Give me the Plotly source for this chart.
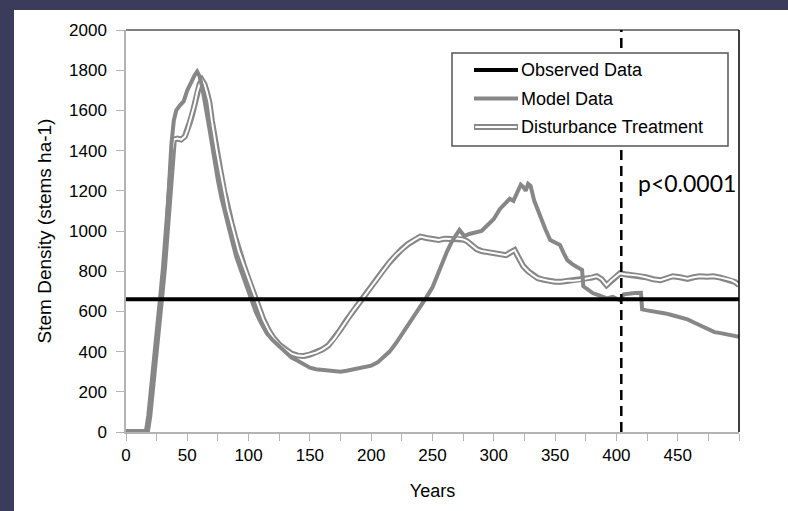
import plotly.graph_objects as go

# ---- data -------------------------------------------------------------
observed_years = [0, 500]
observed_density = [660, 660]

model_years = [0, 5, 10, 15, 17, 19, 21, 23, 25, 27, 29, 31, 33, 35, 37, 39, 41, 44, 47, 50,
               53, 56, 58, 60, 62, 64, 66, 68, 70, 72, 75, 78, 81, 84, 87, 90, 94, 98, 102, 106,
               110, 115, 120, 125, 130, 135, 140, 145, 150, 155, 160, 165, 170, 175, 180, 185,
               190, 195, 200, 205, 210, 215, 220, 225, 230, 235, 240, 245, 250, 255, 258, 262,
               266, 270, 272, 274, 276, 280, 285, 290, 295, 300, 305, 310, 313, 316, 319, 322,
               324, 326, 328, 330, 333, 336, 339, 342, 346, 350, 354, 357, 360, 364, 368, 372,
               373, 377, 381, 386, 392, 397, 401, 403, 406, 410, 415, 420, 421, 425, 430, 436,
               440, 445, 452, 458, 465, 470, 475, 480, 485, 490, 495, 500]
model_density = [0, 0, 0, 0, 0, 90, 200, 330, 460, 580, 700, 830, 1000, 1220, 1430, 1550, 1600,
                 1625, 1645, 1700, 1740, 1775, 1793, 1770, 1720, 1660, 1580, 1510, 1430, 1360,
                 1250, 1160, 1080, 1010, 940, 870, 800, 725, 660, 595, 545, 490, 455, 425, 395,
                 370, 355, 335, 320, 312, 308, 305, 303, 300, 305, 312, 320, 322, 330, 345, 370,
                 400, 440, 485, 530, 580, 625, 670, 720, 800, 850, 900, 950, 990, 1005, 990, 975,
                 985, 995, 1000, 1030, 1060, 1110, 1140, 1160, 1150, 1190, 1230, 1220, 1200, 1235,
                 1225, 1150, 1100, 1060, 1010, 955, 945, 930, 890, 855, 835, 820, 806, 725, 705,
                 690, 680, 665, 672, 660, 655, 685, 690, 692, 693, 610, 605, 600, 598, 590, 582,
                 572, 560, 540, 525, 510, 497, 492, 487, 478, 474]

treatment_years = [0, 17, 19, 21, 23, 25, 27, 29, 31, 33, 35, 37, 39, 42, 45, 48, 50, 52, 54, 56,
                   58, 60, 62, 64, 66, 68, 70, 72, 74, 77, 80, 83, 86, 89, 92, 96, 100, 104, 108,
                   112, 116, 120, 125, 130, 135, 140, 145, 150, 155, 160, 165, 170, 175, 180, 185,
                   190, 195, 200, 205, 210, 215, 220, 225, 230, 235, 240, 245, 250, 255, 260, 265,
                   270, 275, 278, 282, 286, 290, 295, 300, 305, 310, 314, 317, 320, 324, 328, 332,
                   336, 340, 345, 350, 355, 360, 365, 370, 375, 380, 384, 388, 392, 396, 400, 403,
                   407, 412, 418, 424, 430, 436, 441, 446, 452, 458, 463, 468, 474, 479, 485, 490,
                   494, 497, 500]
treatment_density = [0, 0, 80, 190, 320, 450, 570, 690, 820, 990, 1200, 1380, 1455, 1460, 1455,
                     1470, 1500, 1540, 1580, 1630, 1690, 1730, 1750, 1730, 1690, 1640, 1550, 1470,
                     1400, 1300, 1200, 1110, 1040, 970, 900, 830, 760, 690, 620, 560, 510, 470,
                     435, 410, 390, 380, 378, 385, 395, 410, 430, 465, 510, 557, 600, 640, 682,
                     725, 765, 806, 845, 880, 910, 935, 955, 972, 965, 960, 955, 962, 960, 963,
                     958, 950, 930, 910, 900, 895, 890, 885, 880, 895, 905, 870, 825, 800, 780,
                     765, 758, 752, 748, 748, 752, 752, 756, 762, 768, 775, 760, 730, 755, 775,
                     790, 785, 782, 778, 770, 760, 755, 765, 775, 770, 762, 770, 775, 772, 775,
                     768, 760, 755, 745, 730]

cutoff_year = 404
p_label = "p<0.0001"
legend_labels = ["Observed Data", "Model Data", "Disturbance Treatment"]
x_tick_values = list(range(0, 500, 50))
y_tick_values = list(range(0, 2001, 200))

# ---- styling ----------------------------------------------------------
FONT = "Liberation Sans, Arial, sans-serif"
GRAY = "#878787"
AXIS_GRAY = "#b3b3b3"

fig = go.Figure()

# disturbance treatment: hollow double line (wide gray under thin white)
fig.add_trace(go.Scatter(x=treatment_years, y=treatment_density, mode="lines",
                         line=dict(color=GRAY, width=6), showlegend=False,
                         name=legend_labels[2]))
fig.add_trace(go.Scatter(x=treatment_years, y=treatment_density, mode="lines",
                         line=dict(color="white", width=2), showlegend=False,
                         hoverinfo="skip"))
fig.add_trace(go.Scatter(x=model_years, y=model_density, mode="lines",
                         line=dict(color=GRAY, width=4), showlegend=False,
                         name=legend_labels[1]))
fig.add_trace(go.Scatter(x=observed_years, y=observed_density, mode="lines",
                         line=dict(color="black", width=4), showlegend=False,
                         name=legend_labels[0]))

# plot area geometry in pixels, used to place paper-referenced decorations
L, R, T, B = 126, 49, 30, 79
W, H = 788, 511
pw, ph = W - L - R, H - T - B


def px(x):
    return (x - L) / pw


def py(y):
    return (H - B - y) / ph


shapes = [
    # white slide panel over the dark backdrop
    dict(type="rect", xref="paper", yref="paper", x0=px(14), x1=px(800),
         y0=py(520), y1=py(10), fillcolor="white", line=dict(width=0), layer="below"),
    # black frame on top and right of the plot area
    dict(type="line", xref="paper", yref="paper", x0=0, x1=1, y0=1, y1=1,
         line=dict(color="black", width=1.2)),
    dict(type="line", xref="paper", yref="paper", x0=1, x1=1, y0=0, y1=1,
         line=dict(color="black", width=1.5)),
    # cutoff year marker
    dict(type="line", xref="x", yref="y", x0=cutoff_year, x1=cutoff_year, y0=0, y1=2000,
         line=dict(color="black", width=2.5, dash="10px,6px")),
    # legend box
    dict(type="rect", xref="paper", yref="paper", x0=px(452), x1=px(728),
         y0=py(146), y1=py(53), fillcolor="white", line=dict(color="#555555", width=1.5)),
]

rows = [70, 98.5, 127]
sx0, sx1 = px(474), px(518)
shapes.append(dict(type="line", xref="paper", yref="paper", x0=sx0, x1=sx1,
                   y0=py(rows[0]), y1=py(rows[0]), line=dict(color="black", width=4)))
shapes.append(dict(type="line", xref="paper", yref="paper", x0=sx0, x1=sx1,
                   y0=py(rows[1]), y1=py(rows[1]), line=dict(color=GRAY, width=4)))
shapes.append(dict(type="line", xref="paper", yref="paper", x0=sx0, x1=sx1,
                   y0=py(rows[2]), y1=py(rows[2]), line=dict(color=GRAY, width=6)))
shapes.append(dict(type="line", xref="paper", yref="paper", x0=sx0 + 0.002, x1=sx1 - 0.002,
                   y0=py(rows[2]), y1=py(rows[2]), line=dict(color="white", width=2)))

annotations = [
    dict(xref="paper", yref="paper", x=px(519), y=py(r), text=t, showarrow=False,
         xanchor="left", yanchor="middle", font=dict(family=FONT, size=18, color="black"))
    for r, t in zip(rows, legend_labels)
]
annotations.append(dict(xref="x", yref="y", x=416, y=1240, text=p_label, showarrow=False,
                        xanchor="left", yanchor="middle",
                        font=dict(family="Lato, Carlito, sans-serif", size=23, color="black")))

fig.update_layout(
    width=W, height=H,
    margin=dict(l=L, r=R, t=T, b=B, pad=0),
    paper_bgcolor="#3b3b5c",
    plot_bgcolor="white",
    shapes=shapes,
    annotations=annotations,
    showlegend=False,
    font=dict(family=FONT, color="black"),
)

fig.update_xaxes(
    range=[0, 500], tickvals=x_tick_values, ticks="outside", ticklen=7,
    tickcolor=AXIS_GRAY, tickwidth=1.3, showline=True, linecolor=AXIS_GRAY, linewidth=1.5,
    showgrid=False, zeroline=False, tickfont=dict(size=17), ticklabelstandoff=0,
    minor=dict(dtick=25, tick0=0, ticks="outside", ticklen=7, tickcolor=AXIS_GRAY,
               tickwidth=1.3, showgrid=False),
    title=dict(text="Years", font=dict(size=18), standoff=20),
)
fig.update_yaxes(
    range=[0, 2000], tickvals=y_tick_values, ticks="outside", ticklen=8,
    tickcolor=AXIS_GRAY, tickwidth=1.3, showline=True, linecolor=AXIS_GRAY, linewidth=1.5,
    showgrid=False, zeroline=False, tickfont=dict(size=17), ticklabelstandoff=6,
    title=dict(text="Stem Density (stems ha-1)", font=dict(size=19), standoff=12),
)

fig.write_html("out.html")
